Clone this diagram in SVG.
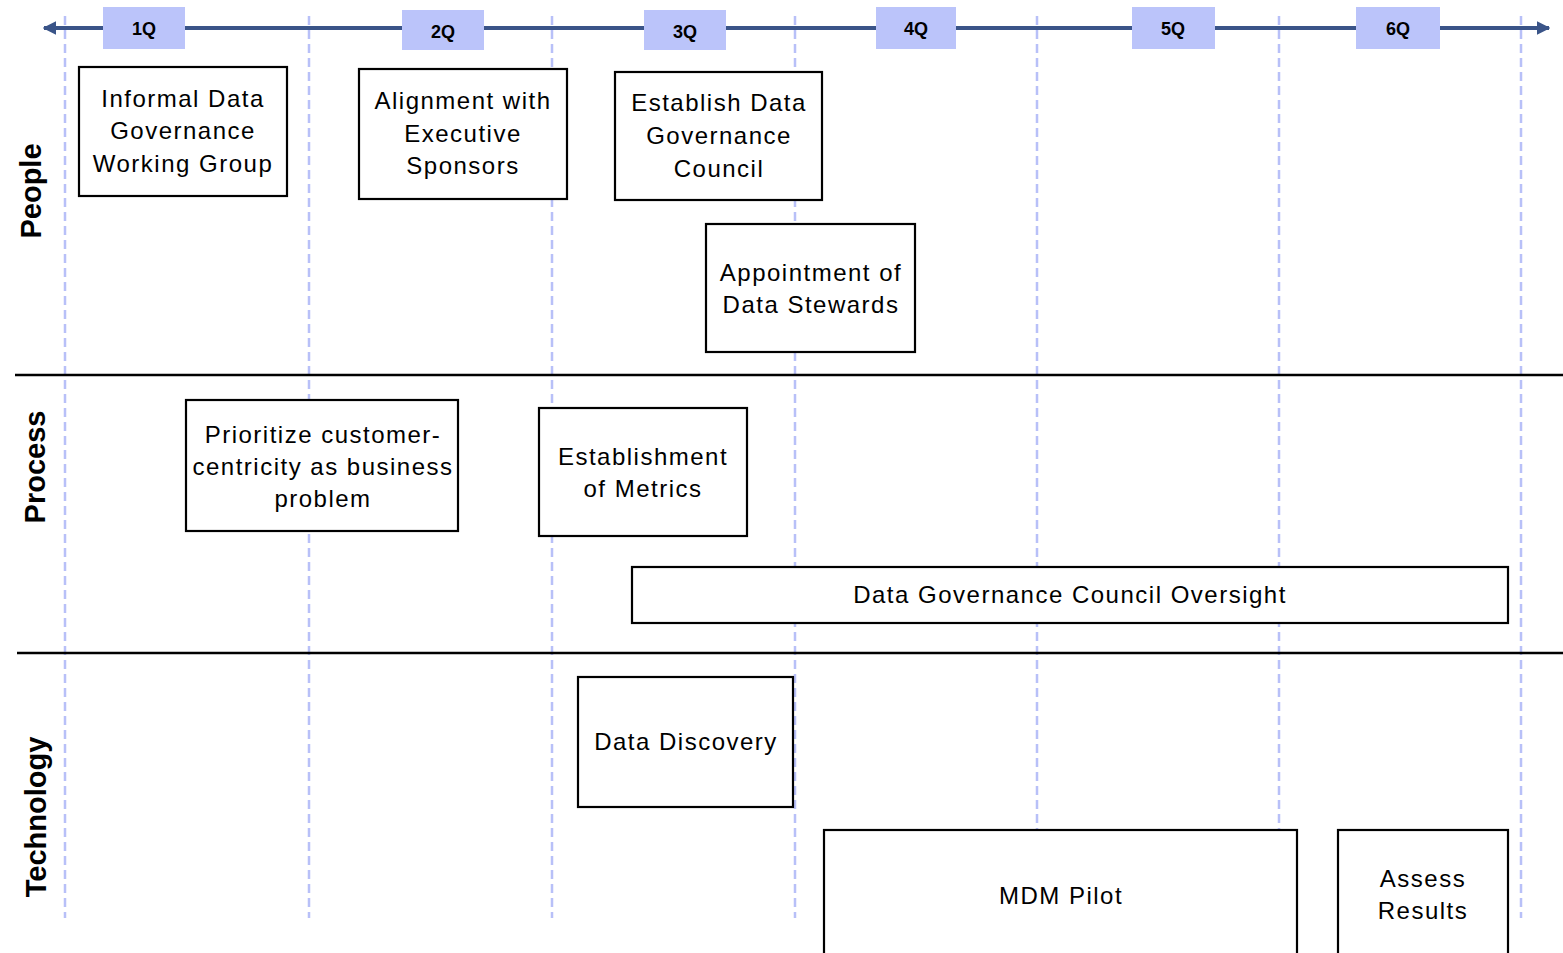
<svg xmlns="http://www.w3.org/2000/svg" width="1563" height="953" viewBox="0 0 1563 953">
  <defs>
    <marker id="axisHead" viewBox="0 0 10 10" refX="9" refY="5" markerWidth="3.4" markerHeight="3.4" orient="auto-start-reverse" markerUnits="strokeWidth">
      <path d="M0,0 L10,5 L0,10 Z" fill="#3a5488"/>
    </marker>
  </defs>
  <style>
    .grid { stroke: #b8c0f8; stroke-width: 2.5; stroke-dasharray: 9 5; fill: none; }
    .lane { stroke: #000; stroke-width: 2.5; }
    .lane-label { font-family: "Liberation Sans", Arial, sans-serif; font-weight: bold; font-size: 29px; fill: #000; text-anchor: middle; }
    .q-box { fill: #bbc4fa; }
    .q-text { font-family: "Liberation Sans", Arial, sans-serif; font-weight: bold; font-size: 18px; fill: #000; text-anchor: middle; }
    .box { fill: #fff; stroke: #000; stroke-width: 2.2; }
    .label { font-family: "Liberation Sans", Arial, sans-serif; font-size: 24px; letter-spacing: 1.5px; fill: #000; text-anchor: middle; }
  </style>
  <rect width="1563" height="953" fill="#fff"/>

  <!-- quarter grid lines -->
  <g id="grid">
    <line class="grid" x1="65" y1="16" x2="65" y2="918"/>
    <line class="grid" x1="309" y1="16" x2="309" y2="918"/>
    <line class="grid" x1="552" y1="16" x2="552" y2="918"/>
    <line class="grid" x1="795" y1="16" x2="795" y2="918"/>
    <line class="grid" x1="1037" y1="16" x2="1037" y2="918"/>
    <line class="grid" x1="1279" y1="16" x2="1279" y2="918"/>
    <line class="grid" x1="1521" y1="16" x2="1521" y2="918"/>
  </g>

  <!-- swimlane separators -->
  <g id="lanes">
    <line class="lane" x1="15" y1="375" x2="1563" y2="375"/>
    <line class="lane" x1="17" y1="653" x2="1563" y2="653"/>
    <text class="lane-label" transform="translate(41,191) rotate(-90)">People</text>
    <text class="lane-label" transform="translate(45,467) rotate(-90)">Process</text>
    <text class="lane-label" transform="translate(46,817) rotate(-90)">Technology</text>
  </g>

  <!-- time axis -->
  <g id="connectors">
    <line x1="44" y1="28" x2="1549" y2="28" stroke="#3a5488" stroke-width="4" marker-start="url(#axisHead)" marker-end="url(#axisHead)"/>
  </g>

  <g id="quarters">
    <g id="q1"><rect class="q-box" x="103" y="7" width="82" height="42"/><text class="q-text" x="144" y="35">1Q</text></g>
    <g id="q2"><rect class="q-box" x="402" y="10" width="82" height="40"/><text class="q-text" x="443" y="38">2Q</text></g>
    <g id="q3"><rect class="q-box" x="644" y="10" width="82" height="40"/><text class="q-text" x="685" y="38">3Q</text></g>
    <g id="q4"><rect class="q-box" x="876" y="7" width="80" height="42"/><text class="q-text" x="916" y="35">4Q</text></g>
    <g id="q5"><rect class="q-box" x="1132" y="7" width="83" height="42"/><text class="q-text" x="1173" y="35">5Q</text></g>
    <g id="q6"><rect class="q-box" x="1356" y="7" width="84" height="42"/><text class="q-text" x="1398" y="35">6Q</text></g>
  </g>

  <!-- People -->
  <g id="informal-working-group">
    <rect class="box" x="79" y="67" width="208" height="129"/>
    <text class="label" x="183" y="107">Informal Data</text>
    <text class="label" x="183" y="139">Governance</text>
    <text class="label" x="183" y="172">Working Group</text>
  </g>
  <g id="executive-sponsors">
    <rect class="box" x="359" y="69" width="208" height="130"/>
    <text class="label" x="463" y="109">Alignment with</text>
    <text class="label" x="463" y="142">Executive</text>
    <text class="label" x="463" y="174">Sponsors</text>
  </g>
  <g id="governance-council">
    <rect class="box" x="615" y="72" width="207" height="128"/>
    <text class="label" x="719" y="111">Establish Data</text>
    <text class="label" x="719" y="144">Governance</text>
    <text class="label" x="719" y="177">Council</text>
  </g>
  <g id="data-stewards">
    <rect class="box" x="706" y="224" width="209" height="128"/>
    <text class="label" x="811" y="281">Appointment of</text>
    <text class="label" x="811" y="313">Data Stewards</text>
  </g>

  <!-- Process -->
  <g id="customer-centricity">
    <rect class="box" x="186" y="400" width="272" height="131"/>
    <text class="label" x="323" y="443">Prioritize customer-</text>
    <text class="label" x="323" y="475">centricity as business</text>
    <text class="label" x="323" y="507">problem</text>
  </g>
  <g id="metrics">
    <rect class="box" x="539" y="408" width="208" height="128"/>
    <text class="label" x="643" y="465">Establishment</text>
    <text class="label" x="643" y="497">of Metrics</text>
  </g>
  <g id="council-oversight">
    <rect class="box" x="632" y="567" width="876" height="56"/>
    <text class="label" x="1070" y="603">Data Governance Council Oversight</text>
  </g>

  <!-- Technology -->
  <g id="data-discovery">
    <rect class="box" x="578" y="677" width="215" height="130"/>
    <text class="label" x="686" y="750">Data Discovery</text>
  </g>
  <g id="mdm-pilot">
    <rect class="box" x="824" y="830" width="473" height="140"/>
    <text class="label" x="1061" y="904">MDM Pilot</text>
  </g>
  <g id="assess-results">
    <rect class="box" x="1338" y="830" width="170" height="140"/>
    <text class="label" x="1423" y="887">Assess</text>
    <text class="label" x="1423" y="919">Results</text>
  </g>
</svg>
